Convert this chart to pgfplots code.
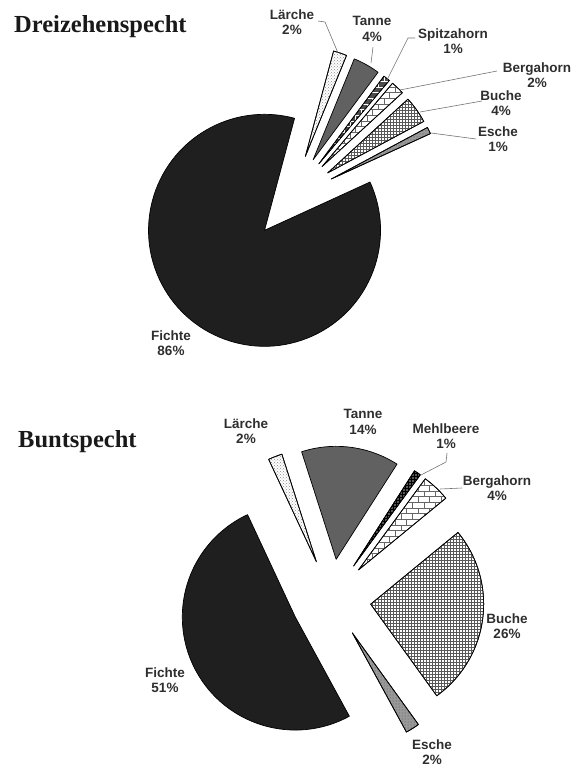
\documentclass[border=0pt]{standalone}
\usepackage{fontspec}
\setmainfont{Liberation Serif}
\setsansfont{Liberation Sans}
\usepackage{pgfplots}
\usepackage{pgfplotstable}
\pgfplotsset{compat=1.18}
\usetikzlibrary{patterns}

\tikzset{
 wedge/.style={draw=black, line width=0.7pt, line join=round},
 fichte/.style={wedge, fill=black!88},
 laerche/.style={wedge, preaction={fill=white}, pattern=crosshatch dots, pattern color=black!45},
 tanne/.style={wedge, fill=black!62},
 spitz/.style={wedge, preaction={fill=black!70}, pattern=bricks, pattern color=white},
 berg/.style={wedge, preaction={fill=white}, pattern=bricks, pattern color=black!60},
 buche/.style={wedge, preaction={fill=white}, pattern=grid, pattern color=black!65},
 esche/.style={wedge, preaction={fill=black!40}, pattern=dots, pattern color=black!70},
 mehl/.style={wedge, preaction={fill=black!65}, pattern=grid, pattern color=black},
 lab/.style={font=\sffamily\bfseries\fontsize{13.5}{15.5}\selectfont, text=black!82, align=center, inner sep=0pt},
 lead/.style={draw=black!55, line width=0.6pt},
 ttl/.style={anchor=base west, inner sep=0pt, font=\bfseries\fontsize{24.5}{28}\selectfont, text=black!90},
}

% art = species, value = percent, ex = explosion (px), r = radius (px), lx/ly = label centre
\pgfplotstableread{
art value ex r lx ly sty
Lärche 2 45 109 292 22 laerche
Tanne 4 45 109 372 29 tanne
Spitzahorn 1 45 109 453 41 spitz
Bergahorn 2 45 109 537 75 berg
Buche 4 45 109 501 103 buche
Esche 1 45 109 498 139 esche
Fichte 86 41 116 171 343 fichte
}\dreizehn

\pgfplotstableread{
art value ex r lx ly sty
Lärche 2 40 113 246 431 laerche
Tanne 14 40 113 363 422 tanne
Mehlbeere 1 40 113 446 436 mehl
Bergahorn 4 40 113 497 488 berg
Buche 26 40 113 507 626 buche
Esche 2 40 113 432 752 esche
Fichte 51 40 113 165 680 fichte
}\bunt

% #1 table, #2 cx, #3 cy, #4 start angle (slices run clockwise)
\newcommand\drawpie[4]{%
  \xdef\curangle{#4}%
  \pgfplotstablegetrowsof{#1}%
  \pgfmathtruncatemacro\lastrow{\pgfplotsretval-1}%
  \pgfplotsforeachungrouped \i in {0,...,\lastrow}{%
    \pgfplotstablegetelem{\i}{value}\of{#1}\let\val\pgfplotsretval
    \pgfplotstablegetelem{\i}{ex}\of{#1}\let\ex\pgfplotsretval
    \pgfplotstablegetelem{\i}{r}\of{#1}\let\rad\pgfplotsretval
    \pgfplotstablegetelem{\i}{sty}\of{#1}\let\sty\pgfplotsretval
    \pgfmathsetmacro\endangle{\curangle-3.6*\val}%
    \pgfmathsetmacro\midangle{\curangle-1.8*\val}%
    \pgfmathsetmacro\ax{#2+\ex*cos(\midangle)}%
    \pgfmathsetmacro\ay{#3-\ex*sin(\midangle)}%
    \edef\temp{\noexpand\addplot[\sty] coordinates {(\ax,\ay)} -- ++(\curangle:\rad pt) arc[start angle=\curangle, end angle=\endangle, radius=\rad pt] -- cycle;}%
    \temp
    \xdef\curangle{\endangle}%
  }%
}
\newcommand\labelpie[1]{%
  \pgfplotstablegetrowsof{#1}%
  \pgfmathtruncatemacro\lastrow{\pgfplotsretval-1}%
  \pgfplotsforeachungrouped \i in {0,...,\lastrow}{%
    \pgfplotstablegetelem{\i}{art}\of{#1}\let\art\pgfplotsretval
    \pgfplotstablegetelem{\i}{value}\of{#1}\let\val\pgfplotsretval
    \pgfplotstablegetelem{\i}{lx}\of{#1}\let\lx\pgfplotsretval
    \pgfplotstablegetelem{\i}{ly}\of{#1}\let\ly\pgfplotsretval
    \edef\temp{\noexpand\node[lab] at (axis cs:\lx,\ly) {\art\noexpand\\\val\noexpand\%};}%
    \temp
  }%
}

\begin{document}
\begin{tikzpicture}
\begin{axis}[x=1pt, y=1pt, xmin=0, xmax=578, ymin=0, ymax=767, y dir=reverse,
  hide axis, clip=false, scale only axis]
 \drawpie{\dreizehn}{291}{199}{75}
 \drawpie{\bunt}{331}{599}{115}
 \labelpie{\dreizehn}
 \labelpie{\bunt}
 % leader lines, top chart
 \draw[lead] (axis cs:318,21) -- (axis cs:325,22) -- (axis cs:338,53);
 \draw[lead] (axis cs:373,47) -- (axis cs:371,63);
 \draw[lead] (axis cs:415,38) -- (axis cs:408,38) -- (axis cs:387,80);
 \draw[lead] (axis cs:497,71) -- (axis cs:400,90);
 \draw[lead] (axis cs:482,101) -- (axis cs:420,112);
 \draw[lead] (axis cs:476,139) -- (axis cs:431,133);
 % leader lines, bottom chart
 \draw[lead] (axis cs:447,453) -- (axis cs:446,462) -- (axis cs:421,475);
 \draw[lead] (axis cs:462,488) -- (axis cs:440,489);
 % titles
 \node[ttl] at (axis cs:14,33) {Dreizehenspecht};
 \node[ttl] at (axis cs:18,447) {Buntspecht};
 \coordinate (bbA) at (axis cs:0,0);
 \coordinate (bbB) at (axis cs:578,767);
\end{axis}
\pgfresetboundingbox
\path[use as bounding box] (bbA) rectangle (bbB);
\end{tikzpicture}
\end{document}
